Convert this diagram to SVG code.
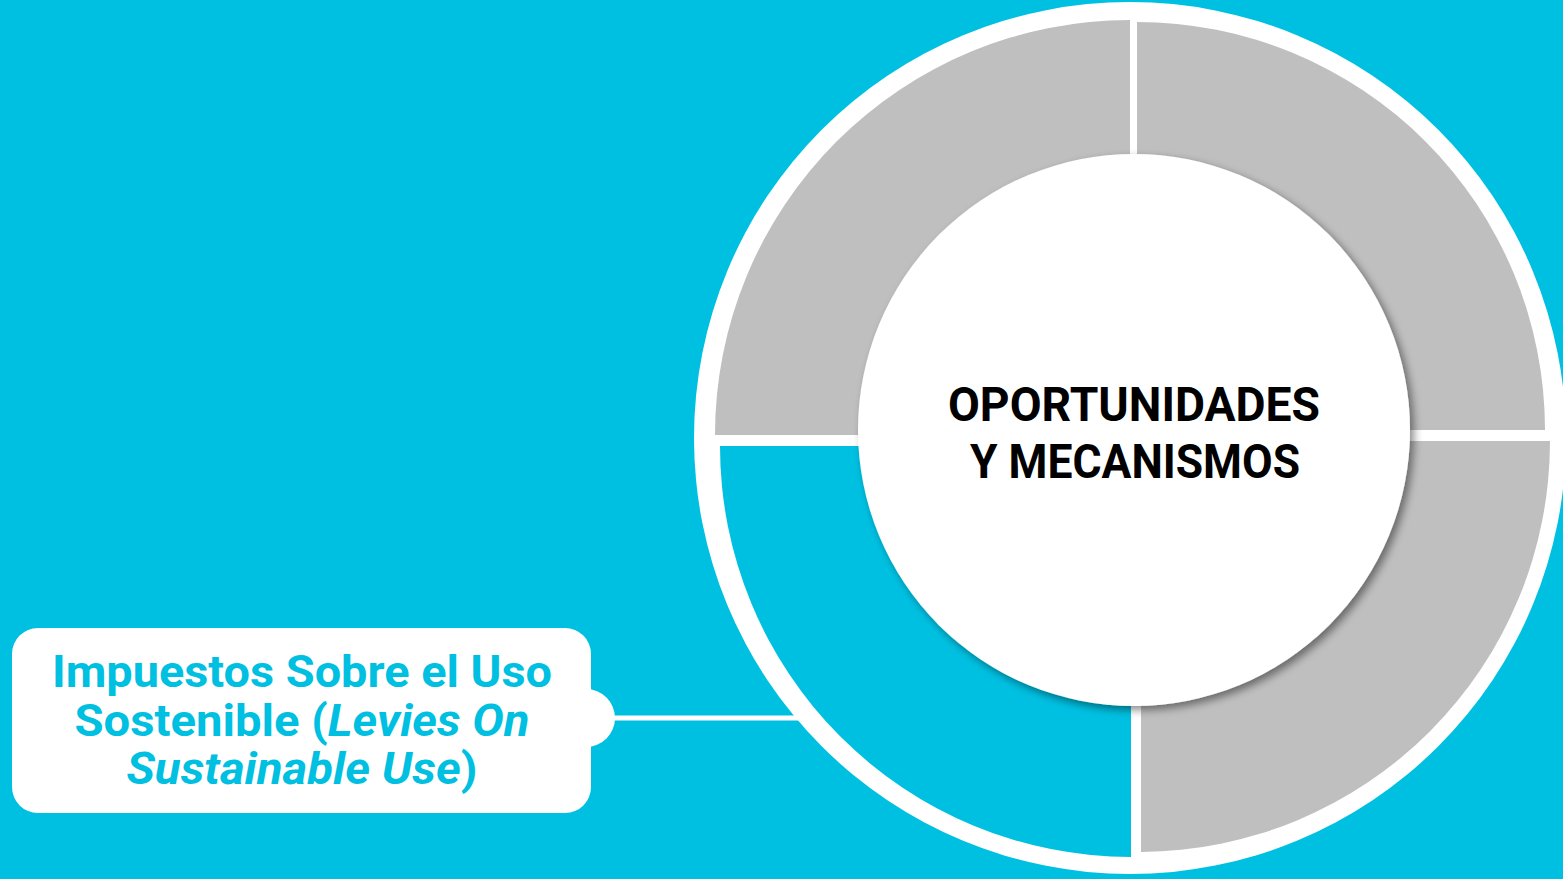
<svg xmlns="http://www.w3.org/2000/svg" width="1563" height="879" viewBox="0 0 1563 879">
  <style>
    .gray { fill: #BFBFBF; }
    .cyan { fill: #00C0E1; }
    .title { font-family: Roboto, "Liberation Sans", sans-serif; font-weight: 700; font-size: 48px; fill: #000000; }
    .label { font-family: Roboto, "Liberation Sans", sans-serif; font-weight: 700; font-size: 44px; fill: #00C0E1; }
    .it { font-style: italic; }
  </style>
  <defs>
    <filter id="shadow" x="-20%" y="-20%" width="140%" height="140%">
      <feDropShadow dx="4" dy="4" stdDeviation="4" flood-color="#000000" flood-opacity="0.45"/>
    </filter>
  </defs>
  <rect x="0" y="0" width="1563" height="879" fill="#00C0E1"/>

  <g id="ring">
    <circle cx="1130" cy="438" r="436" fill="#FFFFFF"/>
    <path class="gray" d="M1130,435 L715,435 A415,415 0 0 1 1130,20 Z"/>
    <path class="gray" d="M1137,430 L1137,22 A408,408 0 0 1 1545,430 Z"/>
    <path class="gray" d="M1141,441 L1550,441 A411,411 0 0 1 1141,852 Z"/>
    <path class="cyan" d="M1131,446 L1131,857 A411,411 0 0 1 720,446 Z"/>
  </g>

  <g id="center-node">
    <circle cx="1134" cy="430" r="276" fill="#FFFFFF" filter="url(#shadow)"/>
    <text class="title" x="1134" y="421" text-anchor="middle" textLength="372" lengthAdjust="spacingAndGlyphs">OPORTUNIDADES</text>
    <text class="title" x="1135" y="478" text-anchor="middle" textLength="330" lengthAdjust="spacingAndGlyphs">Y MECANISMOS</text>
  </g>

  <g id="connectors">
    <line x1="605" y1="718" x2="802" y2="718" stroke="#FFFFFF" stroke-width="5"/>
  </g>

  <g id="callout">
    <rect x="12" y="628" width="579" height="185" rx="26" ry="26" fill="#FFFFFF"/>
    <circle cx="586" cy="718" r="29" fill="#FFFFFF"/>
    <text class="label" x="302" y="687" text-anchor="middle" textLength="500" lengthAdjust="spacingAndGlyphs">Impuestos Sobre el Uso</text>
    <text class="label" x="302" y="736" text-anchor="middle" textLength="455" lengthAdjust="spacingAndGlyphs">Sostenible (<tspan class="it">Levies On</tspan></text>
    <text class="label" x="302" y="784" text-anchor="middle" textLength="351" lengthAdjust="spacingAndGlyphs"><tspan class="it">Sustainable Use</tspan>)</text>
  </g>
</svg>
